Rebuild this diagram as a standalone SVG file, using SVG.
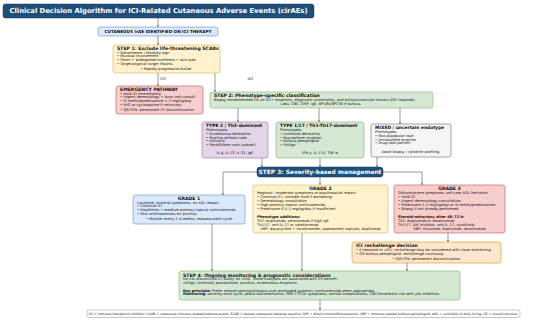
<svg xmlns="http://www.w3.org/2000/svg" width="550" height="323" viewBox="0 0 550 323">
<defs>
<marker id="ah" viewBox="0 0 6 6" refX="6" refY="3" markerWidth="3" markerHeight="3" orient="auto"><path d="M0,0 L6,3 L0,6 z" fill="#555"/></marker>
<style>
text{font-family:"DejaVu Sans","Liberation Sans",sans-serif;fill:#111;}
.hd{font-weight:bold;font-size:4.6px;}
.hs{font-weight:bold;font-size:4.4px;}
.b{font-size:3.6px;}
.bb{font-size:3.6px;font-weight:bold;}
.c{text-anchor:middle;}
.conn line,.conn polyline{stroke:#555;stroke-width:0.6;fill:none;marker-end:url(#ah);}
.bar{fill:#1f4e79;stroke:#163a5c;stroke-width:0.5;}
.wt{fill:#fff;font-weight:bold;}
.blue{fill:#dae8fc;stroke:#6c8ebf;stroke-width:0.6;}
.yel{fill:#fff2cc;stroke:#d6b656;stroke-width:0.6;}
.red{fill:#f8cecc;stroke:#b85450;stroke-width:0.6;}
.grn{fill:#d5e8d4;stroke:#82b366;stroke-width:0.6;}
.pur{fill:#e1d5e7;stroke:#9673a6;stroke-width:0.6;}
.gry{fill:#f5f5f5;stroke:#666;stroke-width:0.6;}
.org{fill:#ffe6cc;stroke:#d79b00;stroke-width:0.6;}
.ft{fill:#fff;stroke:#888;stroke-width:0.5;}
.lbl{font-size:3.6px;fill:#333;}
</style>
</defs>
<rect width="550" height="323" fill="#fff"/>

<g class="conn">
<line x1="158" y1="18" x2="158" y2="27"/>
<line x1="158" y1="36" x2="158" y2="45"/>
<line x1="158" y1="73" x2="158" y2="86"/>
<line x1="215" y1="73" x2="215" y2="92"/>
<line x1="238" y1="108" x2="238" y2="122"/>
<line x1="319" y1="108" x2="319" y2="122"/>
<line x1="400" y1="108" x2="400" y2="124"/>
<line x1="262" y1="158" x2="262" y2="167"/>
<line x1="320" y1="158" x2="320" y2="167"/>
<line x1="377" y1="157" x2="377" y2="167"/>
<polyline points="257,172 223,172 223,195"/>
<line x1="320" y1="177" x2="320" y2="185"/>
<polyline points="383,172 422,172 422,185"/>
<line x1="448" y1="233" x2="448" y2="242"/>
<line x1="212" y1="224" x2="212" y2="271"/>
<line x1="302" y1="233" x2="302" y2="271"/>
<line x1="407" y1="263" x2="407" y2="271"/>
<line x1="320" y1="300" x2="320" y2="310"/>
</g>
<text class="lbl" x="159.5" y="80">YES</text>
<text class="lbl" x="247.5" y="80">NO</text>

<g id="title">
<rect class="bar" x="3" y="4" width="311" height="14" rx="2.5"/>
<text class="wt c" x="158.5" y="13.4" font-size="6.8">Clinical Decision Algorithm for ICI-Related Cutaneous Adverse Events (cirAEs)</text>
</g>

<g id="start">
<rect class="blue" x="98" y="27" width="120" height="9" rx="2.5"/>
<text class="c" x="158" y="33" font-size="4.2" font-weight="bold">CUTANEOUS irAE IDENTIFIED ON ICI THERAPY</text>
</g>

<g id="step1">
<rect class="yel" x="113" y="45" width="107" height="28" rx="2.5"/>
<text class="hd" x="117" y="50">STEP 1: Exclude life-threatening SCARs</text>
<text class="b" x="117" y="53.8">• Detachment / Nikolsky sign</text>
<text class="b" x="117" y="57.4">• Mucosal involvement</text>
<text class="b" x="117" y="61">• Fever + widespread erythema + skin pain</text>
<text class="b" x="117" y="64.6">• Target/atypical target lesions</text>
<text class="b c" x="166" y="69.8">• Rapidly progressive bullae</text>
</g>

<g id="emergency">
<rect class="red" x="116" y="86" width="87" height="28" rx="2.5"/>
<text class="hd" x="120" y="91">EMERGENCY PATHWAY</text>
<text class="b" x="120" y="94.8">• Hold ICI immediately</text>
<text class="b" x="120" y="98.4">• Urgent dermatology + burn unit consult</text>
<text class="b" x="120" y="102">• IV methylprednisolone 1–2 mg/kg/day</text>
<text class="b" x="120" y="105.6">• IVIG or cyclosporine if refractory</text>
<text class="b" x="120" y="110.6">• SJS/TEN: permanent ICI discontinuation</text>
</g>

<g id="step2">
<rect class="grn" x="210" y="92" width="223" height="16" rx="2.5"/>
<text class="hd" x="214" y="97">STEP 2: Phenotype-specific classification</text>
<text class="b" x="214" y="101" font-size="3.55">Biopsy recommended for all G2+ eruptions, diagnostic uncertainty, and bullous/vesicular lesions (DIF required).</text>
<text class="b c" x="321" y="105.2">Labs: CBC, CMP, IgE, BP180/BP230 if bullous.</text>
</g>

<g id="type2">
<rect class="pur" x="202" y="122" width="66" height="36" rx="2.5"/>
<text class="hs" x="206" y="127">TYPE 2 / Th2-dominant</text>
<text class="b" x="206" y="130.9">Phenotypes:</text>
<text class="b" x="206" y="134.7">• Eczematous dermatitis</text>
<text class="b" x="206" y="138.5">• Pruritus without rash</text>
<text class="b" x="206" y="142.3">• Urticaria</text>
<text class="b" x="206" y="146.1">• Morbilliform rash (subset)</text>
<text class="b c" x="235" y="154">IL-4, IL-13, IL-31, IgE</text>
</g>

<g id="type117">
<rect class="grn" x="276" y="122" width="88" height="36" rx="2.5"/>
<text class="hs" x="280" y="127">TYPE 1/17 / Th1-Th17-dominant</text>
<text class="b" x="280" y="130.9">Phenotypes:</text>
<text class="b" x="280" y="134.7">• Lichenoid dermatitis</text>
<text class="b" x="280" y="138.5">• Psoriasiform eruption</text>
<text class="b" x="280" y="142.3">• Bullous pemphigoid</text>
<text class="b" x="280" y="146.1">• Vitiligo</text>
<text class="b c" x="320" y="154">IFN-γ, IL-17A, TNF-α</text>
</g>

<g id="mixed">
<rect class="gry" x="371" y="124" width="80" height="33" rx="2.5"/>
<text class="hs" x="375" y="129">MIXED / uncertain endotype</text>
<text class="b" x="375" y="132.9">Phenotypes:</text>
<text class="b" x="375" y="136.7">• Maculopapular rash</text>
<text class="b" x="375" y="140.5">• Unclassified eruption</text>
<text class="b" x="375" y="144.3">• Drug-rash pattern</text>
<text class="b c" x="411" y="153.2">Await biopsy / cytokine profiling.</text>
</g>

<g id="step3">
<rect class="bar" x="257" y="167" width="126" height="10" rx="3"/>
<text class="wt c" x="320" y="174.2" font-size="5.9">STEP 3: Severity-based management</text>
</g>

<g id="grade1">
<rect class="blue" x="133" y="195" width="112" height="29" rx="2.5"/>
<text class="hd c" x="189" y="199.9">GRADE 1</text>
<text class="b" x="137" y="203.6">Localized, minimal symptoms, no ADL impact</text>
<text class="b" x="137" y="207.3">• Continue ICI</text>
<text class="b" x="137" y="211">• Emollients + medium-potency topical corticosteroids</text>
<text class="b" x="137" y="214.7">• Oral antihistamines for pruritus</text>
<text class="b c" x="189" y="220.4">• Monitor every 2–4 weeks; reassess each cycle</text>
</g>

<g id="grade2">
<rect class="yel" x="253" y="185" width="135" height="48" rx="2.5"/>
<text class="hd c" x="320.5" y="190.4">GRADE 2</text>
<text class="b" x="257" y="194.4">Regional / moderate symptoms or psychosocial impact</text>
<text class="b" x="257" y="198.3">• Continue ICI; consider hold if worsening</text>
<text class="b" x="257" y="202.2">• Dermatology consultation</text>
<text class="b" x="257" y="206.1">• High-potency topical corticosteroids</text>
<text class="b" x="257" y="210">• Prednisone 0.5–1 mg/kg/day if insufficient</text>
<text class="bb" x="257" y="217.8">Phenotype additions:</text>
<text class="b" x="257" y="221.7">Th2: dupilumab, omalizumab if high IgE</text>
<text class="b" x="257" y="225.6">Th1/17: anti-IL-17 or ustekinumab</text>
<text class="b c" x="320.5" y="229.6">irBP: doxycycline + nicotinamide; superpotent topicals, dupilumab</text>
</g>

<g id="grade3">
<rect class="red" x="394" y="185" width="111" height="48" rx="2.5"/>
<text class="hd c" x="449.5" y="190.4">GRADE 3</text>
<text class="b" x="398" y="194.4">Diffuse/severe symptoms; self-care ADL limitation</text>
<text class="b" x="398" y="198.3">• Hold ICI</text>
<text class="b" x="398" y="202.2">• Urgent dermatology consultation</text>
<text class="b" x="398" y="206.1">• Prednisone 1–2 mg/kg/day or IV methylprednisolone</text>
<text class="b" x="398" y="210">• Biopsy if not already performed</text>
<text class="bb" x="398" y="217.8">Steroid-refractory after 48–72 h:</text>
<text class="b" x="398" y="221.7">Th2: dupilumab or omalizumab</text>
<text class="b" x="398" y="225.6">Th1/17: JAK inhibitor, anti-IL-17, ruxolitinib</text>
<text class="b c" x="449.5" y="229.6">irBP: rituximab, dupilumab, omalizumab</text>
</g>

<g id="rechallenge">
<rect class="org" x="352" y="242" width="149" height="21" rx="2.5"/>
<text class="hd" x="356" y="247.2">ICI rechallenge decision</text>
<text class="b" x="356" y="251.1">• If resolved to ≤G1: rechallenge may be considered with close monitoring</text>
<text class="b" x="356" y="254.9">• G3 bullous pemphigoid: rechallenge cautiously</text>
<text class="b c" x="426.5" y="260">• SJS/TEN: permanent discontinuation</text>
</g>

<g id="step4">
<rect class="grn" x="179" y="271" width="281" height="29" rx="2.5"/>
<text class="hd" x="183" y="276.5">STEP 4: Ongoing monitoring &amp; prognostic considerations</text>
<text class="b" x="183" y="280.4" font-size="3.45">Do not discontinue ICI solely for cirAE. Some subtypes are associated with OS benefit:</text>
<text class="b" x="183" y="284.1" font-size="3.45">vitiligo, lichenoid, psoriasiform, pruritus, eczematous eruptions.</text>
<text class="b" x="183" y="291.5" font-size="3.45"><tspan font-weight="bold">Key principle:</tspan> Prefer steroid-sparing biologics over prolonged systemic corticosteroids when appropriate.</text>
<text class="b" x="183" y="295.3" font-size="3.45"><tspan font-weight="bold">Monitoring:</tspan> severity each cycle, photo-documentation, PRO-CTCAE symptoms, steroid complications, CBC/thrombotic risk with JAK inhibitors.</text>
</g>

<g id="footer">
<rect class="ft" x="87" y="310" width="433" height="7.5" rx="2"/>
<text class="c" x="303.5" y="315" font-size="3.25">ICI = immune checkpoint inhibitor; cirAE = cutaneous immune-related adverse event; SCAR = severe cutaneous adverse reaction; DIF = direct immunofluorescence; irBP = immune-related bullous pemphigoid; ADL = activities of daily living; OS = overall survival.</text>
</g>
</svg>
